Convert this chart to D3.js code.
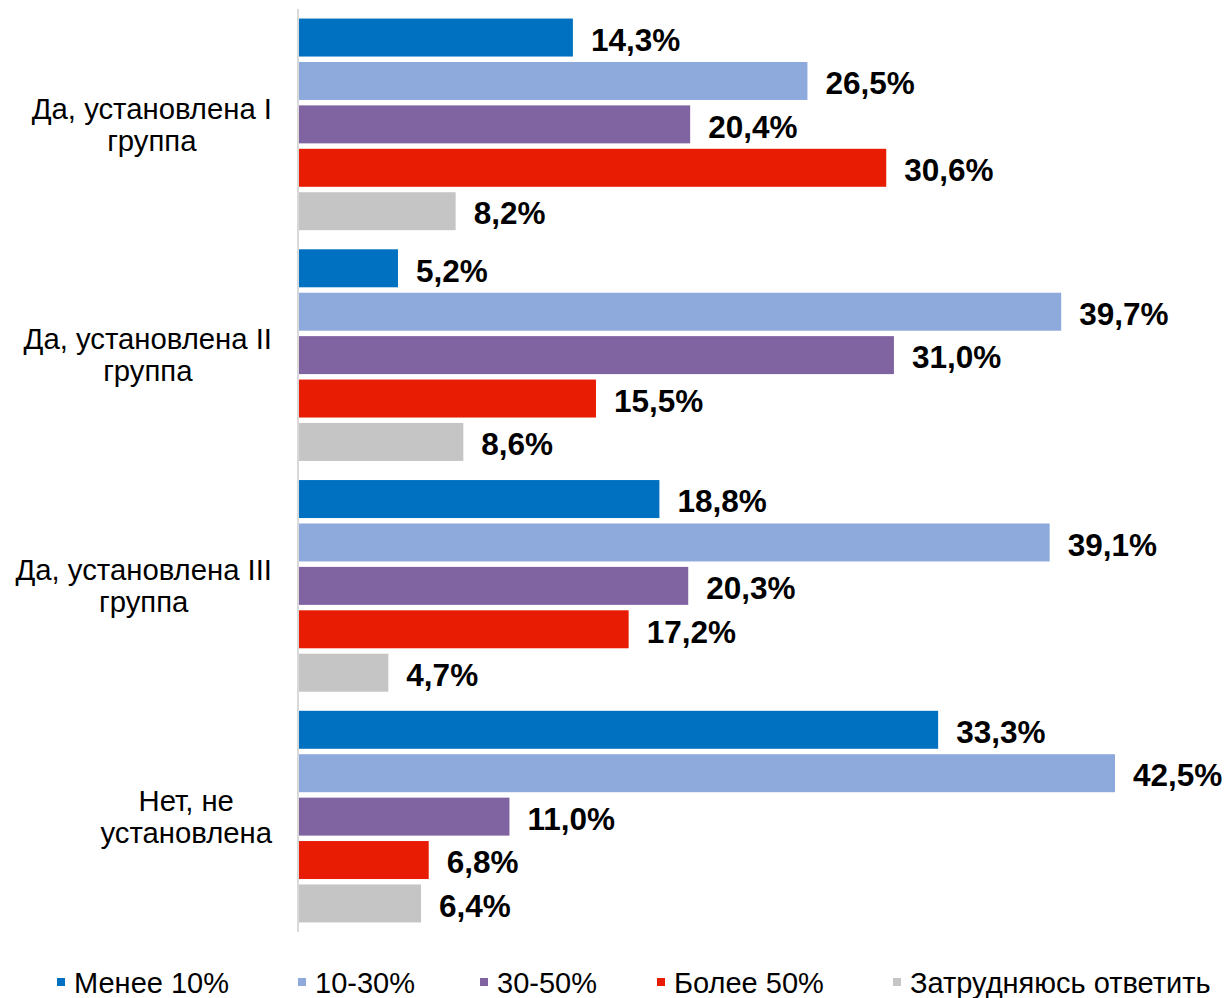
<!DOCTYPE html>
<html><head><meta charset="utf-8">
<script src="https://cdn.jsdelivr.net/npm/d3@7"></script>
<style>body{margin:0;background:#fff;} text{font-family:"Liberation Sans",Arial,sans-serif;}</style>
</head><body>
<svg id="c" width="1229" height="998"></svg>
<script>
const categories = [["Да, установлена I","группа"],["Да, установлена II","группа"],["Да, установлена III","группа"],["Нет, не","установлена"]];
const seriesNames = ["Менее 10%","10-30%","30-50%","Более 50%","Затрудняюсь ответить"];
const lessThan10 = [14.3, 5.2, 18.8, 33.3];
const from10to30 = [26.5, 39.7, 39.1, 42.5];
const from30to50 = [20.4, 31.0, 20.3, 11.0];
const moreThan50 = [30.6, 15.5, 17.2, 6.8];
const hardToSay = [8.2, 8.6, 4.7, 6.4];
const seriesValues = [lessThan10, from10to30, from30to50, moreThan50, hardToSay];
const colors = ["#0070C0","#8EA9DB","#8064A2","#E81C03","#C5C5C5"];

const svg = d3.select("#c");
const x = d3.scaleLinear().domain([0, 42.5]).range([298, 1115]);
const y0 = d3.scaleBand().domain(d3.range(categories.length)).range([9, 932]);
const y1 = d3.scaleBand().domain(d3.range(seriesNames.length)).range([0, y0.bandwidth()]).paddingInner(0.125).paddingOuter(0.22);

const fmt = v => v.toFixed(1).replace(".", ",") + "%";

categories.forEach((cat, ci) => {
  const g = svg.append("g").attr("transform", `translate(0,${y0(ci)})`);
  seriesValues.forEach((vals, si) => {
    const v = vals[ci];
    g.append("rect").attr("x", x(0)).attr("y", y1(si)).attr("width", x(v) - x(0)).attr("height", y1.bandwidth()).attr("fill", colors[si]);
    g.append("text").attr("x", x(v) + 18).attr("y", y1(si) + y1.bandwidth()/2).attr("dy", "0.42em")
      .attr("font-size", 31.5).attr("font-weight", "bold").attr("fill", "#000").text(fmt(v));
  });
  const cy = y0(ci) + y0.bandwidth()/2;
  const lt = svg.append("g");
  const texts = cat.map((line, li) => lt.append("text").attr("font-size", 29.3).attr("fill", "#000")
      .attr("text-anchor", "middle").attr("y", cy + (li - (cat.length-1)/2) * 32).attr("dy", "0.35em").text(line));
  const maxW = d3.max(texts, t => t.node().getComputedTextLength());
  texts.forEach(t => t.attr("x", 272 - maxW/2));
});

svg.append("line").attr("x1", x(0)).attr("x2", x(0)).attr("y1", 9).attr("y2", 932).attr("stroke", "#D9D9D9").attr("stroke-width", 2);

const legendX = [57, 298, 480, 657, 893];
seriesNames.forEach((n, i) => {
  svg.append("rect").attr("x", legendX[i]).attr("y", 978).attr("width", 8).attr("height", 8).attr("fill", colors[i]);
  svg.append("text").attr("x", legendX[i] + 17).attr("y", 993).attr("font-size", 29).attr("fill", "#000").text(n);
});
</script>
</body></html>
